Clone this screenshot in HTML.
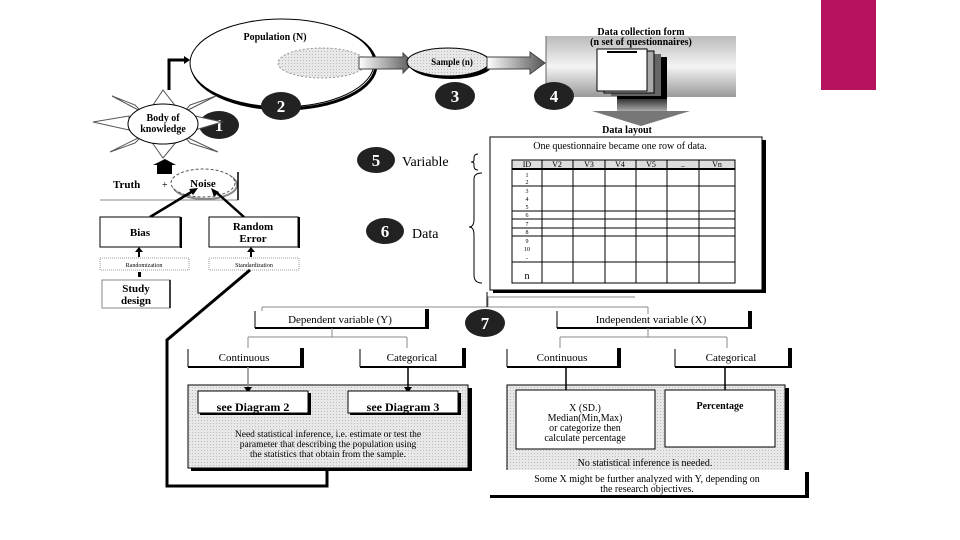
<!DOCTYPE html>
<html><head><meta charset="utf-8"><style>
html,body{margin:0;padding:0;background:#fff;}
svg{display:block;font-family:"Liberation Serif",serif;}
.b{font-weight:bold;}
</style></head><body>
<svg width="960" height="540" viewBox="0 0 960 540" xmlns="http://www.w3.org/2000/svg">
<defs>
<linearGradient id="ga" x1="0" x2="1" y1="0" y2="0"><stop offset="0" stop-color="#fff"/><stop offset="1" stop-color="#555"/></linearGradient>
<linearGradient id="gb" x1="0" x2="0" y1="0" y2="1"><stop offset="0" stop-color="#bbb"/><stop offset="0.5" stop-color="#f4f4f4"/><stop offset="1" stop-color="#999"/></linearGradient>
<linearGradient id="gc" x1="0" x2="0" y1="0" y2="1"><stop offset="0" stop-color="#333"/><stop offset="1" stop-color="#aaa"/></linearGradient>
<pattern id="dots" width="3" height="3" patternUnits="userSpaceOnUse"><rect width="3" height="3" fill="#e8e8e8"/><rect width="1" height="1" fill="#bbb"/></pattern>
</defs>
<rect x="821" y="0" width="55" height="90" fill="#B5135F"/>

<!-- population -->
<ellipse cx="284" cy="65" rx="92" ry="44" fill="none" stroke="#000" stroke-width="3"/>
<ellipse cx="282" cy="63" rx="92" ry="44" fill="#fff" stroke="#000" stroke-width="1"/>
<text x="275" y="40" font-size="10" class="b" text-anchor="middle">Population (N)</text>
<ellipse cx="322" cy="63" rx="44" ry="15" fill="url(#dots)" stroke="#999" stroke-dasharray="2,2"/>
<polygon points="359,57 403,57 403,53 413,63 403,73 403,69 359,69" fill="url(#ga)" stroke="#444"/>
<ellipse cx="451" cy="64" rx="42" ry="15" fill="#000"/>
<ellipse cx="448" cy="62" rx="41" ry="14" fill="url(#dots)" stroke="#000"/>
<text x="452" y="65" font-size="9" class="b" text-anchor="middle">Sample (n)</text>
<polygon points="487,57 530,57 530,52 545,63 530,74 530,69 487,69" fill="url(#ga)" stroke="#444"/>
<path d="M169,90 V60 H185" fill="none" stroke="#000" stroke-width="3"/>
<polygon points="184,56 190,60 184,64" fill="#000"/>

<!-- data collection form -->
<rect x="546" y="36" width="190" height="61" fill="url(#gb)"/>
<line x1="546" y1="36" x2="546" y2="97" stroke="#666"/>
<text x="641" y="35" font-size="10" class="b" text-anchor="middle">Data collection form</text>
<text x="641" y="45" font-size="10" class="b" text-anchor="middle">(n set of questionnaires)</text>
<rect x="617" y="57" width="50" height="42" fill="#000"/>
<rect x="611" y="54" width="50" height="42" fill="#666"/>
<rect x="604" y="51" width="50" height="42" fill="#aaa" stroke="#000"/>
<rect x="597" y="49" width="50" height="42" fill="#fff" stroke="#000"/>
<rect x="607" y="51" width="30" height="2" fill="#000"/>
<rect x="617" y="99" width="50" height="12" fill="url(#gc)"/>
<polygon points="592,111 690,111 641,126" fill="#777"/>
<text x="627" y="133" font-size="10" class="b" text-anchor="middle">Data layout</text>

<!-- circles -->
<g fill="#222">
<ellipse cx="281" cy="106" rx="20" ry="14"/><ellipse cx="455" cy="96" rx="20" ry="14"/>
<ellipse cx="554" cy="96" rx="20" ry="14"/><ellipse cx="219" cy="125" rx="20" ry="14"/>
<ellipse cx="376" cy="160" rx="19" ry="13"/><ellipse cx="385" cy="231" rx="19" ry="13"/>
<ellipse cx="485" cy="323" rx="20" ry="14"/>
</g>
<g fill="#fff" font-weight="bold" font-size="17" text-anchor="middle">
<text x="281" y="112">2</text><text x="455" y="102">3</text><text x="554" y="102">4</text>
<text x="219" y="131">1</text><text x="376" y="166">5</text><text x="385" y="237">6</text><text x="485" y="329">7</text>
</g>

<!-- body of knowledge star -->
<g fill="#fff" stroke="#555">
<polygon points="151,108 163,90 177,108"/><polygon points="151,141 163,158 177,141"/>
<polygon points="129,116 93,122 129,130"/><polygon points="195,116 222,122 195,130"/>
<polygon points="135,105 112,96 142,112"/><polygon points="190,105 216,96 184,112"/>
<polygon points="135,143 110,152 142,136"/><polygon points="190,143 218,152 184,136"/>
</g>
<ellipse cx="163" cy="124" rx="35" ry="20" fill="#fff" stroke="#000"/>
<text x="163" y="121" font-size="10" class="b" text-anchor="middle">Body of</text>
<text x="163" y="132" font-size="10" class="b" text-anchor="middle">knowledge</text>
<rect x="157" y="164" width="15" height="10" fill="#000"/><polygon points="153,165 165,159 176,165" fill="#000"/>

<!-- truth noise -->
<text x="113" y="188" font-size="11" class="b">Truth</text><text x="162" y="188" font-size="10">+</text>
<ellipse cx="205" cy="185" rx="32" ry="14" fill="none" stroke="#888" stroke-width="2"/>
<ellipse cx="203" cy="183" rx="32" ry="14" fill="#fff" stroke="#555" stroke-dasharray="3,2"/>
<text x="203" y="187" font-size="11" class="b" text-anchor="middle">Noise</text>
<path d="M100,200 H238 V172" fill="none" stroke="#888"/><line x1="238" y1="172" x2="238" y2="200" stroke="#000" stroke-width="1.5"/>
<line x1="150" y1="217" x2="193" y2="191" stroke="#000" stroke-width="2.5"/><polygon points="198,188 189,189 193,195" fill="#000"/>
<line x1="244" y1="217" x2="216" y2="192" stroke="#000" stroke-width="2.5"/><polygon points="211,188 214,197 219,192" fill="#000"/>
<rect x="100" y="217" width="80" height="30" fill="#fff" stroke="#000"/><line x1="181" y1="217" x2="181" y2="248" stroke="#000" stroke-width="2"/>
<text x="140" y="236" font-size="11" class="b" text-anchor="middle">Bias</text>
<rect x="209" y="217" width="89" height="30" fill="#fff" stroke="#000"/><line x1="299" y1="217" x2="299" y2="248" stroke="#000" stroke-width="2"/>
<text x="253" y="230" font-size="11" class="b" text-anchor="middle">Random</text><text x="253" y="242" font-size="11" class="b" text-anchor="middle">Error</text>
<path d="M139,257 V250" stroke="#000" stroke-width="2"/><polygon points="135,252 139,247 143,252" fill="#000"/>
<path d="M251,257 V250" stroke="#000" stroke-width="2"/><polygon points="247,252 251,247 255,252" fill="#000"/>
<rect x="100" y="258" width="89" height="12" fill="#fff" stroke="#999" stroke-dasharray="1,1"/>
<text x="144" y="267" font-size="6" text-anchor="middle">Randomization</text>
<rect x="209" y="258" width="90" height="12" fill="#fff" stroke="#999" stroke-dasharray="1,1"/>
<text x="254" y="267" font-size="6" text-anchor="middle">Standardization</text>
<rect x="138" y="272" width="3" height="5" fill="#000"/>
<rect x="102" y="280" width="68" height="28" fill="#fff" stroke="#888"/><line x1="170" y1="280" x2="170" y2="308" stroke="#000" stroke-width="1.5"/>
<text x="136" y="292" font-size="11" class="b" text-anchor="middle">Study</text><text x="136" y="304" font-size="11" class="b" text-anchor="middle">design</text>
<path d="M250,270 L167,340 V486 H327 V470" fill="none" stroke="#000" stroke-width="3"/>

<!-- table -->
<rect x="490" y="137" width="272" height="153" fill="#fff" stroke="#000"/>
<rect x="762" y="140" width="4" height="153" fill="#000"/><rect x="493" y="290" width="273" height="3" fill="#000"/>
<text x="620" y="149" font-size="10" text-anchor="middle">One questionnaire became one row of data.</text>
<rect x="512" y="160" width="223" height="9" fill="#ddd"/>
<g stroke="#000" fill="none">
<rect x="512" y="160" width="223" height="123"/>
<line x1="512" y1="169" x2="735" y2="169" stroke-width="2"/>
<line x1="512" y1="186" x2="735" y2="186"/><line x1="512" y1="211" x2="735" y2="211"/>
<line x1="512" y1="219" x2="735" y2="219"/><line x1="512" y1="228" x2="735" y2="228"/>
<line x1="512" y1="236" x2="735" y2="236"/><line x1="512" y1="262" x2="735" y2="262"/>
<line x1="542" y1="160" x2="542" y2="283"/><line x1="573" y1="160" x2="573" y2="283"/>
<line x1="605" y1="160" x2="605" y2="283"/><line x1="636" y1="160" x2="636" y2="283"/>
<line x1="667" y1="160" x2="667" y2="283"/><line x1="699" y1="160" x2="699" y2="283"/>
</g>
<g font-size="8" text-anchor="middle">
<text x="527" y="167">ID</text><text x="557" y="167">V2</text><text x="589" y="167">V3</text><text x="620" y="167">V4</text><text x="651" y="167">V5</text><text x="683" y="167">..</text><text x="717" y="167">Vn</text>
<text x="527" y="177" font-size="6">1</text><text x="527" y="184" font-size="6">2</text><text x="527" y="193" font-size="6">3</text><text x="527" y="201" font-size="6">4</text><text x="527" y="209" font-size="6">5</text><text x="527" y="217" font-size="6">6</text><text x="527" y="226" font-size="6">7</text><text x="527" y="234" font-size="6">8</text><text x="527" y="243" font-size="6">9</text><text x="527" y="251" font-size="6">10</text><text x="527" y="259" font-size="6">..</text><text x="527" y="279" font-size="10">n</text>
</g>
<text x="402" y="166" font-size="14">Variable</text>
<text x="412" y="238" font-size="14">Data</text>
<path d="M478,154 q-4,0 -4,4 v2 q0,2 -3,2 q3,0 3,2 v2 q0,4 4,4" fill="none" stroke="#000"/>
<path d="M482,173 q-8,0 -8,6 v40 q0,8 -5,8 q5,0 5,8 v40 q0,8 8,8" fill="none" stroke="#000"/>

<!-- tree -->
<path d="M487,297 H635 M488,297 V307 M262,307 H648 M262,307 V314 M648,307 V314" fill="none" stroke="#888"/>
<line x1="487" y1="292" x2="487" y2="307" stroke="#000"/>
<rect x="255" y="311" width="170" height="17" fill="#fff" stroke="none"/><line x1="255" y1="311" x2="255" y2="328" stroke="#000"/>
<line x1="255" y1="328" x2="428" y2="328" stroke="#000" stroke-width="2"/><rect x="425" y="309" width="4" height="20" fill="#000"/>
<text x="340" y="323" font-size="11" text-anchor="middle">Dependent variable (Y)</text>
<line x1="557" y1="311" x2="557" y2="328" stroke="#000"/>
<line x1="557" y1="328" x2="752" y2="328" stroke="#000" stroke-width="2"/><rect x="748" y="311" width="4" height="18" fill="#000"/>
<text x="651" y="323" font-size="11" text-anchor="middle">Independent variable (X)</text>
<path d="M332,328 V337 M248,337 H407 M248,337 V348 M407,337 V348 M648,328 V337 M560,337 H727 M560,337 V348 M727,337 V348" fill="none" stroke="#888"/>
<g stroke="#000" fill="none">
<line x1="188" y1="349" x2="188" y2="367"/><line x1="188" y1="367" x2="303" y2="367" stroke-width="2"/>
<line x1="360" y1="349" x2="360" y2="367"/><line x1="360" y1="367" x2="465" y2="367" stroke-width="2"/>
<line x1="507" y1="349" x2="507" y2="367"/><line x1="507" y1="367" x2="620" y2="367" stroke-width="2"/>
<line x1="675" y1="349" x2="675" y2="367"/><line x1="675" y1="367" x2="790" y2="367" stroke-width="2"/>
</g>
<rect x="300" y="348" width="4" height="20" fill="#000"/><rect x="462" y="348" width="4" height="20" fill="#000"/>
<rect x="617" y="348" width="4" height="20" fill="#000"/><rect x="788" y="348" width="4" height="20" fill="#000"/>
<g font-size="11" text-anchor="middle">
<text x="244" y="361">Continuous</text><text x="412" y="361">Categorical</text>
<text x="562" y="361">Continuous</text><text x="731" y="361">Categorical</text>
</g>

<!-- left box -->
<rect x="188" y="385" width="280" height="83" fill="url(#dots)" stroke="#000"/>
<rect x="468" y="388" width="4" height="83" fill="#000"/><rect x="191" y="468" width="281" height="3" fill="#000"/>
<line x1="248" y1="367" x2="248" y2="387" stroke="#888" stroke-width="1.5"/><polygon points="244,387 252,387 248,393" fill="#000"/>
<line x1="408" y1="367" x2="408" y2="387" stroke="#000" stroke-width="1.5"/><polygon points="404,387 412,387 408,393" fill="#000"/>
<rect x="198" y="391" width="110" height="22" fill="#fff" stroke="#000"/><rect x="308" y="393" width="3" height="22" fill="#000"/><rect x="200" y="413" width="111" height="2" fill="#000"/>
<rect x="348" y="391" width="110" height="22" fill="#fff" stroke="#000"/><rect x="458" y="393" width="3" height="22" fill="#000"/><rect x="350" y="413" width="111" height="2" fill="#000"/>
<text x="253" y="411" font-size="12" class="b" text-anchor="middle">see Diagram 2</text>
<text x="403" y="411" font-size="12" class="b" text-anchor="middle">see Diagram 3</text>
<g font-size="9.5" text-anchor="middle">
<text x="328" y="437">Need statistical inference, i.e. estimate or test the</text>
<text x="328" y="447">parameter that describing the population using</text>
<text x="328" y="457">the statistics that obtain from the sample.</text>
</g>

<!-- right box -->
<rect x="507" y="385" width="278" height="86" fill="url(#dots)" stroke="#000"/>
<rect x="785" y="388" width="4" height="84" fill="#000"/>
<line x1="566" y1="367" x2="566" y2="390" stroke="#000" stroke-width="1.5"/><polygon points="562,390 570,390 566,396" fill="#000"/>
<line x1="725" y1="367" x2="725" y2="390" stroke="#000" stroke-width="1.5"/><polygon points="721,390 729,390 725,396" fill="#000"/>
<rect x="516" y="390" width="139" height="59" fill="#fff" stroke="#000"/>
<rect x="665" y="390" width="110" height="57" fill="#fff" stroke="#000"/>
<g font-size="10" text-anchor="middle">
<text x="585" y="411">X (SD.)</text><text x="585" y="421">Median(Min,Max)</text><text x="585" y="431">or categorize then</text><text x="585" y="441">calculate percentage</text>
<text x="720" y="409" class="b">Percentage</text>
<text x="645" y="466">No statistical inference is needed.</text>
</g>
<rect x="488" y="470" width="318" height="26" fill="#fff"/>
<rect x="805" y="472" width="4" height="26" fill="#000"/><rect x="490" y="495" width="319" height="3" fill="#000"/>
<g font-size="10" text-anchor="middle">
<text x="647" y="482">Some X might be further analyzed with Y, depending on</text>
<text x="647" y="492">the research objectives.</text>
</g>
</svg>
</body></html>
